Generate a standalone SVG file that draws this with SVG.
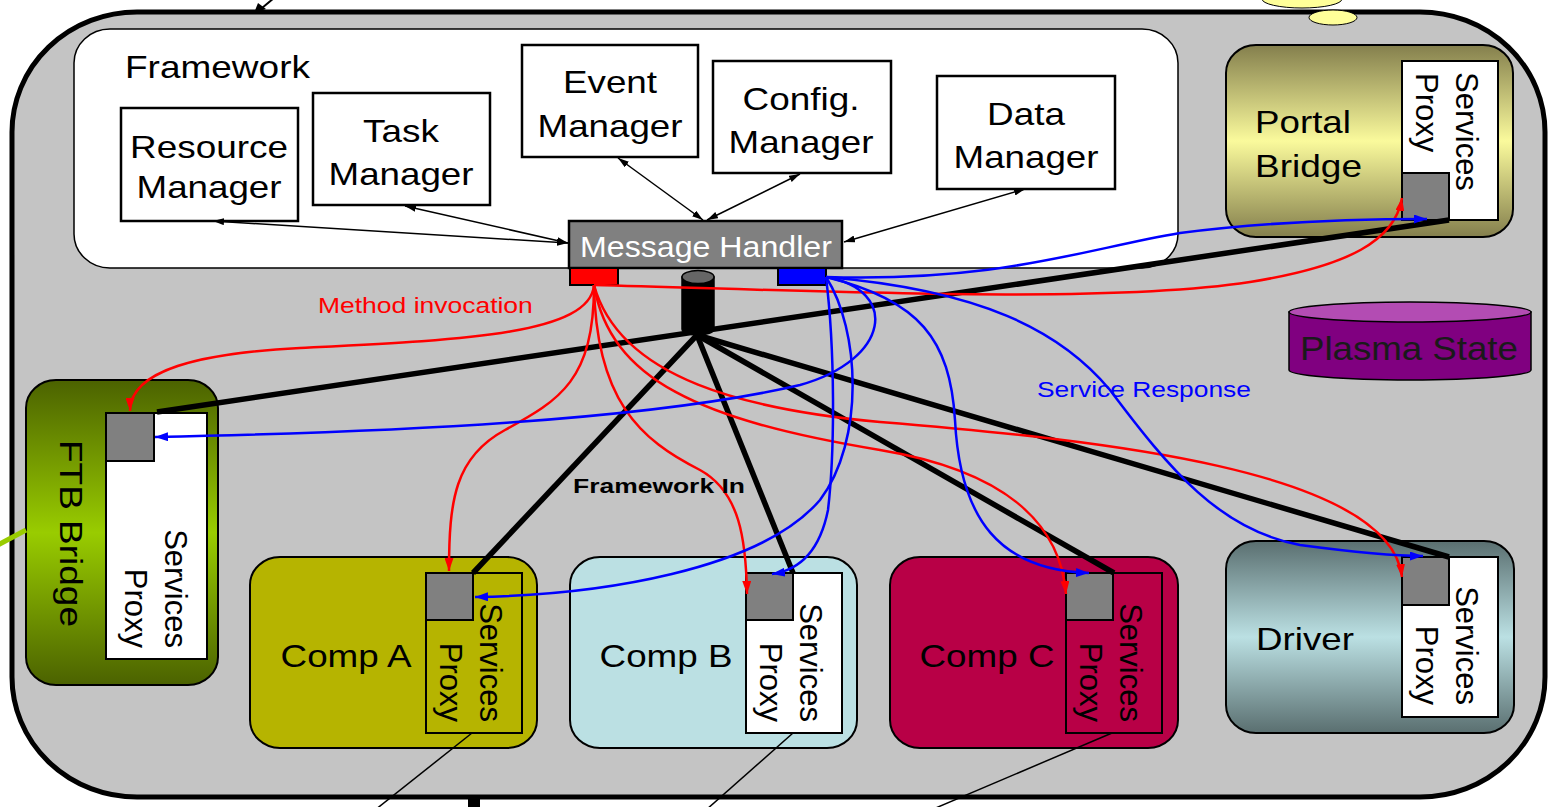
<svg xmlns="http://www.w3.org/2000/svg" width="1556" height="807" viewBox="0 0 1556 807">
  <style>
    text { font-family: "Liberation Sans", Arial, sans-serif; fill: #000; }
    .big { font-size: 32px; }
    .rot { font-size: 31px; }
    .ctr { text-anchor: middle; }
    .end { text-anchor: end; }
    .box { fill: #fff; stroke: #000; stroke-width: 2.5; }
    .comp { stroke: #000; stroke-width: 2; }
    .sq { fill: #808080; stroke: #000; stroke-width: 2; }
    .proxy { stroke: #000; stroke-width: 2; }
    .thin { fill: none; stroke: #000; stroke-width: 1.5; marker-start: url(#ahBlack); marker-end: url(#ahBlack); }
    .bus { fill: none; stroke: #000; stroke-width: 5.5; stroke-linecap: butt; }
    .red { fill: none; stroke: #ff0000; stroke-width: 2.5; marker-end: url(#ahRed); }
    .blue { fill: none; stroke: #0000ff; stroke-width: 2.5; marker-end: url(#ahBlue); }
    .wire { fill: none; stroke: #000; stroke-width: 1.5; }
  </style>
  <defs>
    <linearGradient id="gPortal" x1="0" y1="0" x2="0" y2="1">
      <stop offset="0" stop-color="#847f4d"/>
      <stop offset="0.5" stop-color="#fafa9c"/>
      <stop offset="1" stop-color="#847f4d"/>
    </linearGradient>
    <linearGradient id="gFtb" x1="0" y1="0" x2="0" y2="1">
      <stop offset="0" stop-color="#4b6200"/>
      <stop offset="0.5" stop-color="#99cc00"/>
      <stop offset="1" stop-color="#4b6200"/>
    </linearGradient>
    <linearGradient id="gDriver" x1="0" y1="0" x2="0" y2="1">
      <stop offset="0" stop-color="#5a6f70"/>
      <stop offset="0.5" stop-color="#bbe0e3"/>
      <stop offset="1" stop-color="#5a6f70"/>
    </linearGradient>
    <marker id="ahBlack" viewBox="0 0 10 10" refX="10" refY="5" markerWidth="11" markerHeight="7" markerUnits="userSpaceOnUse" orient="auto-start-reverse" preserveAspectRatio="none">
      <path d="M0,0 L10,5 L0,10 z" fill="#000"/>
    </marker>
    <marker id="ahRed" viewBox="0 0 10 10" refX="10" refY="5" markerWidth="13" markerHeight="9" markerUnits="userSpaceOnUse" orient="auto" preserveAspectRatio="none">
      <path d="M0,0 L10,5 L0,10 z" fill="#ff0000"/>
    </marker>
    <marker id="ahBlue" viewBox="0 0 10 10" refX="10" refY="5" markerWidth="13" markerHeight="9" markerUnits="userSpaceOnUse" orient="auto" preserveAspectRatio="none">
      <path d="M0,0 L10,5 L0,10 z" fill="#0000ff"/>
    </marker>
  </defs>

  <rect width="1556" height="807" fill="#fff"/>

  <!-- incoming link at the top edge -->
  <g id="top-link">
    <line x1="274" y1="-2" x2="262" y2="8" stroke="#000" stroke-width="2"/>
    <polygon points="254,13 258,3 266,9" fill="#000"/>
  </g>

  <!-- outer container -->
  <g id="container">
    <rect x="12" y="12" width="1533" height="785" rx="125" ry="120" fill="#c4c4c4" stroke="#000" stroke-width="5"/>
  </g>

  <!-- external notes overlapping the top edge -->
  <g id="notes">
    <ellipse cx="1302" cy="-1" rx="40" ry="9" fill="#ffff99" stroke="#000" stroke-width="1"/>
    <ellipse cx="1333" cy="17.5" rx="24" ry="7.5" fill="#ffff99" stroke="#000" stroke-width="1"/>
  </g>

  <!-- framework panel (horizontal labels are drawn 1.15x wide) -->
  <g id="framework">
    <rect x="74" y="29" width="1104" height="239" rx="36" ry="34" fill="#fff" stroke="#000" stroke-width="1.5"/>
    <text class="big" transform="matrix(1.156 0 0 1 125 78)">Framework</text>
  </g>

  <g id="resource-manager">
    <rect class="box" x="121" y="108" width="177" height="113"/>
    <text class="big ctr" transform="matrix(1.154 0 0 1 209 158)">Resource</text>
    <text class="big ctr" transform="matrix(1.148 0 0 1 209 198)">Manager</text>
  </g>

  <g id="task-manager">
    <rect class="box" x="313" y="93" width="177" height="112"/>
    <text class="big ctr" transform="matrix(1.154 0 0 1 401 142)">Task</text>
    <text class="big ctr" transform="matrix(1.148 0 0 1 401 185)">Manager</text>
  </g>

  <g id="event-manager">
    <rect class="box" x="522" y="45" width="176" height="112"/>
    <text class="big ctr" transform="matrix(1.15 0 0 1 610 93)">Event</text>
    <text class="big ctr" transform="matrix(1.148 0 0 1 610 137)">Manager</text>
  </g>

  <g id="config-manager">
    <rect class="box" x="713" y="61" width="178" height="112"/>
    <text class="big ctr" transform="matrix(1.154 0 0 1 801 110)">Config.</text>
    <text class="big ctr" transform="matrix(1.148 0 0 1 801 153)">Manager</text>
  </g>

  <g id="data-manager">
    <rect class="box" x="937" y="76" width="178" height="113"/>
    <text class="big ctr" transform="matrix(1.154 0 0 1 1026 125)">Data</text>
    <text class="big ctr" transform="matrix(1.148 0 0 1 1026 168)">Manager</text>
  </g>

  <g id="message-handler">
    <rect x="569" y="221" width="273" height="47" fill="#808080" stroke="#000" stroke-width="2.5"/>
    <text transform="matrix(1.072 0 0 1 580 257)" style="font-size:30px;fill:#fff">Message Handler</text>
    <rect x="570" y="268" width="48" height="17" fill="#ff0000" stroke="#000" stroke-width="2"/>
    <rect x="778" y="268" width="48" height="17" fill="#0000ff" stroke="#000" stroke-width="2"/>
  </g>

  <g id="event-bus">
    <path d="M682,277 L682,329 A16,6 0 0 0 714,329 L714,277 Z" fill="#000" stroke="#000" stroke-width="1.5"/>
    <ellipse cx="698" cy="277" rx="16" ry="6.5" fill="#666" stroke="#000" stroke-width="1.5"/>
  </g>

  <g id="plasma-state">
    <path d="M1289,312 L1289,370 A121,10 0 0 0 1531,370 L1531,312 Z" fill="#800080" stroke="#000" stroke-width="1.5"/>
    <ellipse cx="1410" cy="312" rx="121" ry="10" fill="#b34cb3" stroke="#000" stroke-width="1.5"/>
    <text transform="matrix(1.078 0 0 1 1300 360)" style="font-size:34px;fill:#1a1a1a">Plasma State</text>
  </g>

  <g id="portal-bridge">
    <rect class="comp" x="1226" y="45" width="287" height="192" rx="30" ry="28" fill="url(#gPortal)"/>
    <text class="big" transform="matrix(1.148 0 0 1 1255 133)">Portal</text>
    <text class="big" transform="matrix(1.157 0 0 1 1255 177)">Bridge</text>
    <rect class="proxy" x="1402" y="61" width="96" height="159" fill="#fff"/>
    <rect class="sq" x="1402" y="173" width="47" height="47"/>
    <text class="rot" transform="translate(1456,72) rotate(90)">Services</text>
    <text class="rot" transform="translate(1416,73) rotate(90)">Proxy</text>
  </g>

  <g id="ftb-bridge">
    <rect class="comp" x="26" y="380" width="192" height="305" rx="30" ry="28" fill="url(#gFtb)"/>
    <text class="big ctr" transform="translate(59.5,533.5) rotate(90) scale(1.156,1)">FTB Bridge</text>
    <rect class="proxy" x="106" y="413" width="101" height="246" fill="#fff"/>
    <rect class="sq" x="106" y="413" width="48" height="48"/>
    <text class="rot end" transform="translate(165,648) rotate(90)">Services</text>
    <text class="rot end" transform="translate(125,648) rotate(90)">Proxy</text>
  </g>

  <g id="comp-a">
    <rect class="comp" x="250" y="557" width="287" height="191" rx="30" ry="28" fill="#b6b400"/>
    <text class="big ctr" transform="matrix(1.15 0 0 1 346 667)">Comp A</text>
    <rect class="proxy" x="426" y="573" width="96" height="160" fill="none"/>
    <rect class="sq" x="426" y="573" width="47" height="47"/>
    <text class="rot end" transform="translate(480,722) rotate(90)">Services</text>
    <text class="rot end" transform="translate(440,722) rotate(90)">Proxy</text>
  </g>

  <g id="comp-b">
    <rect class="comp" x="570" y="557" width="287" height="191" rx="30" ry="28" fill="#bbe0e3"/>
    <text class="big ctr" transform="matrix(1.15 0 0 1 666 667)">Comp B</text>
    <rect class="proxy" x="746" y="573" width="96" height="160" fill="#fff"/>
    <rect class="sq" x="746" y="573" width="47" height="47"/>
    <text class="rot end" transform="translate(800,722) rotate(90)">Services</text>
    <text class="rot end" transform="translate(760,722) rotate(90)">Proxy</text>
  </g>

  <g id="comp-c">
    <rect class="comp" x="890" y="557" width="288" height="191" rx="30" ry="28" fill="#b80046"/>
    <text class="big ctr" transform="matrix(1.15 0 0 1 987 667)">Comp C</text>
    <rect class="proxy" x="1066" y="573" width="96" height="160" fill="none"/>
    <rect class="sq" x="1066" y="573" width="47" height="47"/>
    <text class="rot end" transform="translate(1120,722) rotate(90)">Services</text>
    <text class="rot end" transform="translate(1080,722) rotate(90)">Proxy</text>
  </g>

  <g id="driver">
    <rect class="comp" x="1226" y="541" width="288" height="192" rx="30" ry="28" fill="url(#gDriver)"/>
    <text class="big" transform="matrix(1.149 0 0 1 1256 650)">Driver</text>
    <rect class="proxy" x="1402" y="557" width="96" height="160" fill="#fff"/>
    <rect class="sq" x="1402" y="557" width="47" height="48"/>
    <text class="rot end" transform="translate(1456,705) rotate(90)">Services</text>
    <text class="rot end" transform="translate(1416,705) rotate(90)">Proxy</text>
  </g>

  <g id="connectors">
    <!-- manager links to the message handler -->
    <line class="thin" x1="213" y1="221" x2="568" y2="243"/>
    <line class="thin" x1="405" y1="206" x2="568" y2="243"/>
    <line class="thin" x1="618" y1="158" x2="703" y2="220"/>
    <line class="thin" x1="800" y1="174" x2="707" y2="220"/>
    <line class="thin" x1="1025" y1="189" x2="844" y2="242"/>

    <!-- framework bus -->
    <line class="bus" x1="1449" y1="220" x2="157" y2="412"/>
    <line class="bus" x1="697" y1="335" x2="473" y2="573"/>
    <line class="bus" x1="697" y1="335" x2="793" y2="573"/>
    <line class="bus" x1="697" y1="335" x2="1114" y2="573"/>
    <line class="bus" x1="697" y1="335" x2="1449" y2="557"/>

    <!-- method invocation -->
    <path class="red" d="M594,285 C590,335 460,340 300,348 C200,353 130,370 130,411"/>
    <path class="red" d="M594,285 C594,380 560,400 505,430 C455,457 449,500 449,571"/>
    <path class="red" d="M594,285 C596,400 640,440 700,470 C740,492 746,540 747,594"/>
    <path class="red" d="M594,285 C610,380 700,420 880,450 C1000,470 1060,520 1066,594"/>
    <path class="red" d="M594,285 C620,380 750,410 880,422 C1100,440 1390,470 1402,577"/>
    <path class="red" d="M594,285 C800,290 1100,305 1250,282 C1350,266 1395,240 1402,198"/>

    <!-- service response -->
    <path class="blue" d="M826,277 C1000,282 1080,250 1180,233 C1280,220 1380,219 1427,219"/>
    <path class="blue" d="M826,277 C900,290 890,360 800,385 C650,420 400,432 155,437"/>
    <path class="blue" d="M826,277 C860,330 865,440 820,500 C760,570 600,595 475,597"/>
    <path class="blue" d="M826,277 C835,350 835,450 828,510 C820,550 800,570 772,574"/>
    <path class="blue" d="M826,277 C920,300 950,340 955,420 C960,520 1000,570 1089,573"/>
    <path class="blue" d="M826,277 C980,290 1060,330 1110,390 C1170,470 1220,530 1300,545 C1360,553 1400,556 1423,556"/>

    <!-- links leaving the container -->
    <line class="wire" x1="472" y1="733" x2="375" y2="810"/>
    <line class="wire" x1="793" y1="733" x2="706" y2="810"/>
    <line class="wire" x1="1112" y1="733" x2="931" y2="810"/>
    <line x1="-2" y1="545" x2="26" y2="530" stroke="#99cc00" stroke-width="5"/>
    <rect x="468" y="797" width="12" height="12" fill="#000"/>
  </g>

  <g id="labels">
    <text transform="matrix(1.204 0 0 1 318 313)" style="font-size:22px;fill:#ff0000">Method invocation</text>
    <text transform="matrix(1.199 0 0 1 1037 397)" style="font-size:22px;fill:#0000ff">Service Response</text>
    <text transform="matrix(1.26 0 0 1 573 493)" style="font-size:21px;font-weight:bold">Framework In</text>
  </g>
</svg>
